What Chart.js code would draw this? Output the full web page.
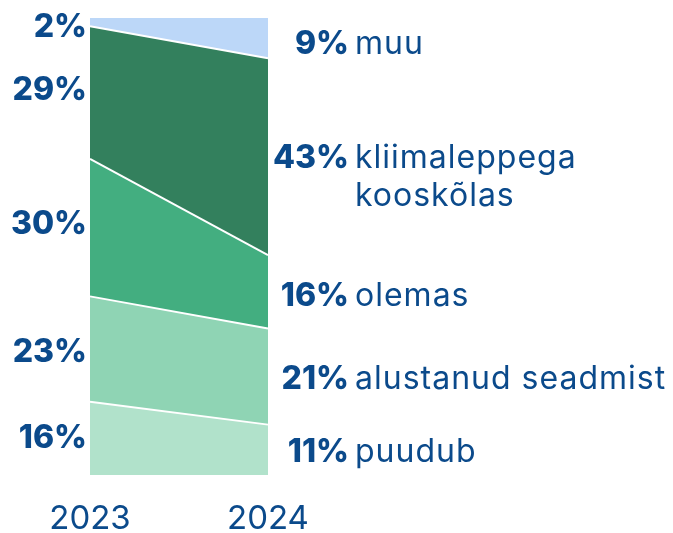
<!DOCTYPE html>
<html>
<head>
<meta charset="utf-8">
<script src="https://cdn.jsdelivr.net/npm/chart.js@4"></script>
<style>
  html, body { margin: 0; padding: 0; background: #fff; }
  #wrap { width: 673px; height: 533px; position: relative; }
</style>
</head>
<body>
<div id="wrap"><canvas id="c"></canvas></div>
<script>
// data (bottom -> top)
const years = ['2023', '2024'];
const names = ['puudub', 'alustanud seadmist', 'olemas', 'kliimaleppega|kooskõlas', 'muu'];
const v2023 = [16, 23, 30, 29, 2];
const v2024 = [11, 21, 16, 43, 9];
const colors = ['#b1e2cb', '#8fd4b4', '#43ae80', '#33805d', '#bcd7f8'];

const TXT = '#0b4a8b';
const FONT = 'Inter, "Noto Sans", sans-serif';

// labels next to both edges of the area + year labels
const sideLabels = {
  id: 'sideLabels',
  afterDatasetsDraw(chart) {
    const { ctx } = chart;
    const x = chart.scales.x, y = chart.scales.y;
    const xl = x.getPixelForValue(0), xr = x.getPixelForValue(1);
    const nudgeL = [-2, 1, -6, -5, 3];   // small manual tweaks like the original
    const nudgeR = [0, 0, 2, -1, 4];
    const half = 12;                     // half cap height
    let c1 = 0, c2 = 0;
    ctx.save();
    ctx.fillStyle = TXT;
    ctx.textBaseline = 'alphabetic';
    names.forEach((n, i) => {
      const m1 = y.getPixelForValue(c1 + v2023[i] / 2) + nudgeL[i];
      const m2 = y.getPixelForValue(c2 + v2024[i] / 2) + nudgeR[i];
      c1 += v2023[i]; c2 += v2024[i];
      ctx.letterSpacing = '0px';
      ctx.font = '800 32px ' + FONT;
      ctx.textAlign = 'right';
      ctx.fillText(v2023[i] + '%', xl - 3, m1 + half);
      ctx.fillText(v2024[i] + '%', xr + 81, m2 + half);
      ctx.font = '400 32px ' + FONT;
      ctx.letterSpacing = '1px';
      ctx.textAlign = 'left';
      n.split('|').forEach((line, k) => ctx.fillText(line, xr + 87, m2 + half + k * 38));
    });
    ctx.letterSpacing = '0px';
    ctx.font = '400 33px ' + FONT;
    ctx.textAlign = 'center';
    ctx.fillText(years[0], xl, chart.chartArea.bottom + 54);
    ctx.fillText(years[1], xr, chart.chartArea.bottom + 54);
    ctx.restore();
  }
};

new Chart(document.getElementById('c').getContext('2d'), {
  type: 'line',
  data: {
    labels: years,
    datasets: names.map((n, i) => ({
      label: n,
      data: [v2023[i], v2024[i]],
      backgroundColor: colors[i],
      borderColor: '#ffffff',
      borderWidth: 2,
      pointRadius: 0,
      tension: 0,
      fill: i === 0 ? 'origin' : '-1',
    }))
  },
  options: {
    responsive: true, maintainAspectRatio: false, animation: false,
    layout: { padding: { left: 90, right: 405, top: 17, bottom: 58 } },
    plugins: { legend: { display: false }, tooltip: { enabled: false } },
    scales: {
      x: { offset: false, display: false },
      y: { stacked: true, min: 0, max: 100, display: false }
    }
  },
  plugins: [sideLabels]
});
</script>
</body>
</html>
